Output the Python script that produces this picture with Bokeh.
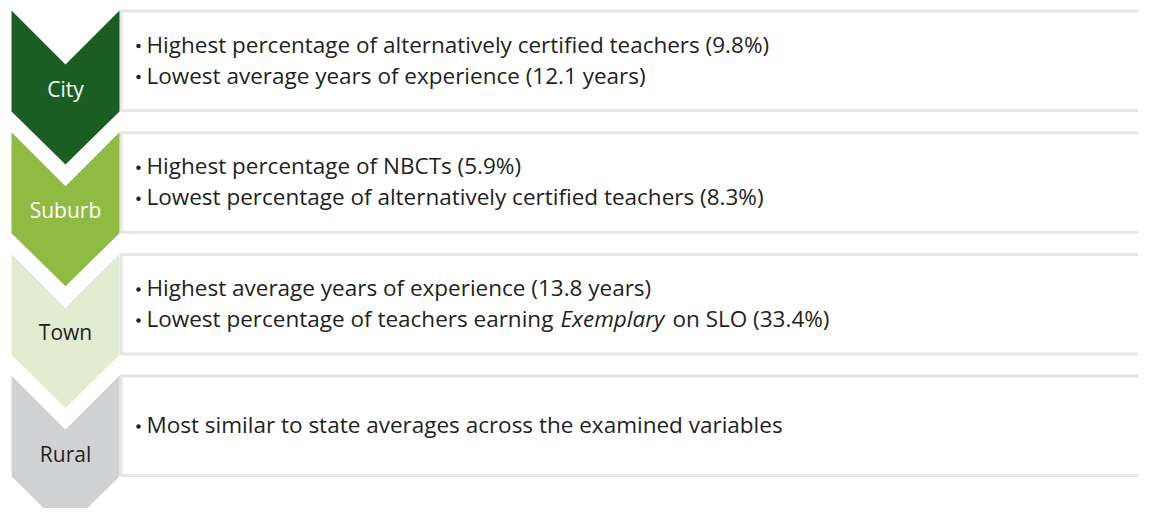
from bokeh.plotting import figure
from bokeh.models import Range1d, ColumnDataSource
from bokeh.core.properties import value
from bokeh.embed import file_html
from bokeh.resources import INLINE

# ---- data ----
categories = ["City", "Suburb", "Town", "Rural"]
fill_colors = ["#1b5e24", "#8fbb42", "#e2ecd1", "#d1d2d4"]
label_colors = ["#ffffff", "#ffffff", "#231f20", "#231f20"]
bullets_city = ["Highest percentage of alternatively certified teachers (9.8%)",
                "Lowest average years of experience (12.1 years)"]
bullets_suburb = ["Highest percentage of NBCTs (5.9%)",
                  "Lowest percentage of alternatively certified teachers (8.3%)"]
bullets_town = ["Highest average years of experience (13.8 years)",
                "Lowest percentage of teachers earning "]
town_italic = "Exemplary"
town_tail = "on SLO (33.4%)"
bullets_rural = ["Most similar to state averages across the examined variables"]
all_bullets = [bullets_city, bullets_suburb, bullets_town, bullets_rural]

# ---- layout constants (pixels) ----
W, H = 1138, 508
ROW = 121.7
TOP0 = 10
XL, XR, XM = 11, 119, 65
NOTCH, SIDE, POINT = 54, 101, 154
FONT = "Open Sans"
FS = "22.5px"
TEXT_X = 146
BULLET_X = 134
LINE_GAP = 31

p = figure(width=W, height=H, output_backend="svg", toolbar_location=None,
           x_range=Range1d(0, W), y_range=Range1d(H, 0),
           x_axis_type=None, y_axis_type=None, min_border=0)
p.grid.visible = False
p.outline_line_color = None
p.background_fill_color = "white"

xs, ys, tops = [], [], []
for i, c in enumerate(categories):
    t = TOP0 + i * ROW
    tops.append(t)
    xs.append([XL, XM, XR, XR, XM, XL])
    ys.append([t, t + NOTCH, t, t + SIDE, t + POINT, t + SIDE])

# boxes
box_src = ColumnDataSource(dict(left=[XR + 1.5] * 4, right=[1300] * 4,
                                top=[t + 0.5 for t in tops],
                                bottom=[t + SIDE - 1 for t in tops]))
p.quad(left="left", right="right", top="top", bottom="bottom", source=box_src,
       fill_color="white", line_color="#e6e6e6", line_width=3)

# chevrons
p.patches(xs, ys, fill_color=fill_colors, line_color=None)

# labels
p.text(x=[XM] * 4, y=[t + 78 for t in tops], text=categories,
       text_color=label_colors, text_font=value(FONT), text_font_size="21px",
       text_align="center", text_baseline="middle")

# bullet texts
bx, by, bt = [], [], []
for i, lines in enumerate(all_bullets):
    t = tops[i]
    n = len(lines)
    center = t + 50
    for j, s in enumerate(lines):
        yy = center + (j - (n - 1) / 2) * LINE_GAP - 1
        bx.append(TEXT_X)
        by.append(yy)
        bt.append(s)
p.text(x=bx, y=by, text=bt, text_color="#231f20", text_font=value(FONT),
       text_font_size=FS, text_align="left", text_baseline="middle")
p.scatter(x=[BULLET_X + 4] * len(by), y=[v + 2 for v in by], size=4.5,
          marker="circle", fill_color="#231f20", line_color=None)

# italic + tail for town line 2
ty = by[5]
p.text(x=[560], y=[ty], text=[town_italic], text_color="#231f20",
       text_font=value(FONT), text_font_size=FS, text_font_style="italic",
       text_align="left", text_baseline="middle")
p.text(x=[672], y=[ty], text=[town_tail], text_color="#231f20",
       text_font=value(FONT), text_font_size=FS,
       text_align="left", text_baseline="middle")

open("out.html", "w").write(file_html(p, INLINE))
